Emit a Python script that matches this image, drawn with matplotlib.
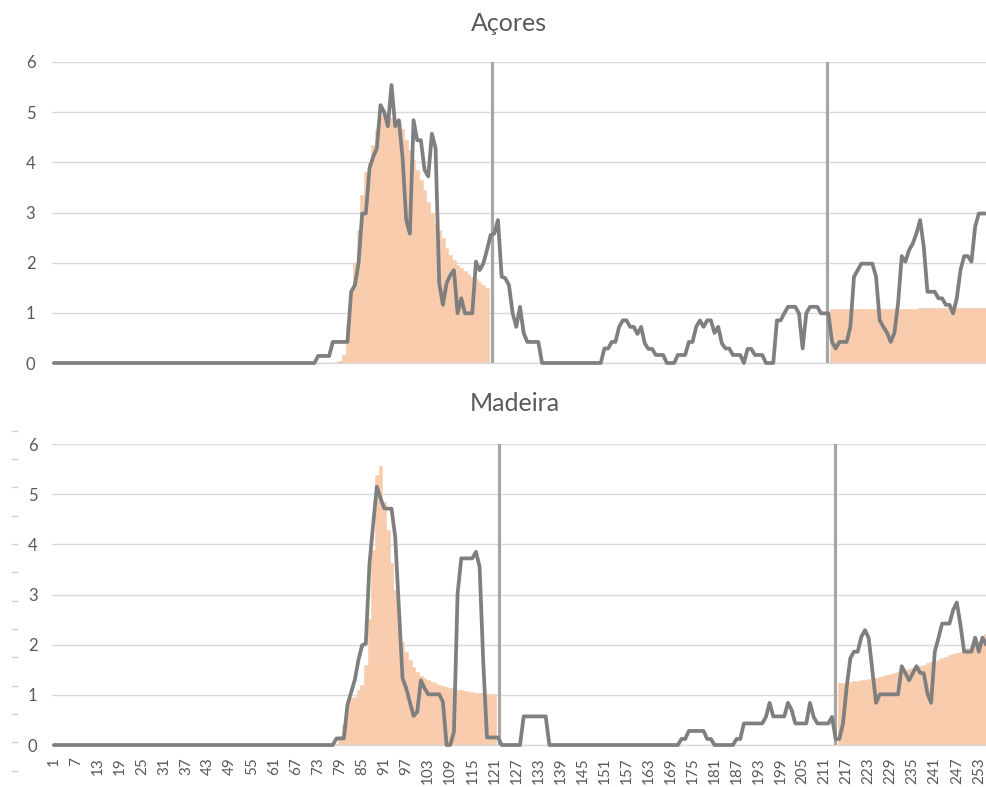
import matplotlib
matplotlib.use("Agg")
import matplotlib.pyplot as plt
from matplotlib.lines import Line2D
import numpy as np

plt.rcParams['font.family'] = ['Lato', 'DejaVu Sans']

N_DAYS = 255
days = list(range(1, N_DAYS + 1))
tick_days = list(range(1, N_DAYS + 1, 6))

titles = ["Açores", "Madeira"]

# ---- Açores ----
acores_bars = ([0] * 77 +
    [0.02, 0.04, 0.15, 0.75, 1.4, 2.0, 2.65, 3.35, 3.8, 4.0,
     4.35, 4.65, 4.9, 4.95, 4.9, 4.88, 4.84, 4.8, 4.67, 4.45,
     4.25, 4.05, 3.85, 3.65, 3.45, 3.2, 3.0, 2.8, 2.65, 2.5,
     2.3, 2.15, 2.05, 1.95, 1.9, 1.84, 1.78, 1.72, 1.67, 1.62,
     1.56, 1.5] +
    [0] * 93 +
    [1.08, 1.08, 1.08, 1.08, 1.08, 1.08, 1.08, 1.08, 1.08, 1.08,
     1.08, 1.08, 1.08, 1.08, 1.08, 1.08, 1.08, 1.08, 1.08, 1.08,
     1.08, 1.08, 1.08, 1.08, 1.1, 1.1, 1.1, 1.1, 1.1, 1.1,
     1.1, 1.1, 1.1, 1.1, 1.1, 1.1, 1.1, 1.1, 1.1, 1.1,
     1.1, 1.1, 1.1])

acores_line = ([0] * 72 +
    [0.14, 0.14, 0.14, 0.14, 0.42, 0.42, 0.42, 0.42, 0.42, 1.42,
     1.55, 1.98, 2.98, 2.98, 3.88, 4.11, 4.28, 5.14, 5.0, 4.72,
     5.54, 4.72, 4.84, 4.1, 2.85, 2.58, 4.84, 4.44, 4.44, 3.85,
     3.72, 4.57, 4.28, 1.59, 1.16, 1.59, 1.75, 1.85, 0.99, 1.29,
     0.99, 0.99, 0.99, 2.02, 1.85, 1.98, 2.25, 2.55, 2.58, 2.85,
     1.72, 1.69, 1.55, 0.99, 0.72, 1.12, 0.6, 0.42, 0.42, 0.42,
     0.42, 0, 0, 0, 0, 0, 0, 0, 0, 0,
     0, 0, 0, 0, 0, 0, 0, 0, 0.29, 0.29,
     0.42, 0.42, 0.72, 0.85, 0.85, 0.72, 0.72, 0.58, 0.72, 0.39,
     0.28, 0.28, 0.16, 0.16, 0.16, 0, 0, 0, 0.16, 0.16,
     0.16, 0.42, 0.42, 0.72, 0.85, 0.72, 0.85, 0.85, 0.6, 0.72,
     0.39, 0.29, 0.29, 0.16, 0.16, 0.16, 0, 0.28, 0.28, 0.16,
     0.16, 0.16, 0, 0, 0, 0.85, 0.85, 0.99, 1.12, 1.12,
     1.12, 0.99, 0.29, 0.99, 1.12, 1.12, 1.12, 0.99, 0.99, 0.99,
     0.42, 0.29, 0.42, 0.42, 0.42, 0.72, 1.72, 1.85, 1.98, 1.98,
     1.98, 1.98, 1.72, 0.85, 0.72, 0.6, 0.42, 0.6, 1.19, 2.13,
     2.02, 2.25, 2.38, 2.58, 2.85, 2.32, 1.42, 1.42, 1.42, 1.29,
     1.29, 1.16, 1.16, 0.99, 1.29, 1.85, 2.13, 2.13, 2.02, 2.72,
     2.98, 2.98, 2.98])

acores_markers = [120.4, 211.6]

# ---- Madeira ----
madeira_bars = ([0] * 77 +
    [0.02, 0.17, 0.4, 0.83, 0.93, 0.96, 1.1, 1.2, 1.6, 2.52,
     3.88, 5.38, 5.56, 4.85, 4.28, 3.62, 3.09, 2.32, 2.06, 1.86,
     1.69, 1.56, 1.46, 1.38, 1.33, 1.3, 1.26, 1.23, 1.2, 1.18,
     1.15, 1.13, 1.12, 1.1, 1.09, 1.08, 1.06, 1.05, 1.04, 1.03,
     1.03, 1.02, 1.02, 1.02] +
    [0] * 93 +
    [1.23, 1.24, 1.25, 1.26, 1.27, 1.28, 1.29, 1.3, 1.32, 1.33,
     1.34, 1.36, 1.38, 1.4, 1.41, 1.43, 1.45, 1.47, 1.5, 1.52,
     1.54, 1.56, 1.58, 1.6, 1.63, 1.66, 1.68, 1.7, 1.73, 1.76,
     1.79, 1.81, 1.84, 1.86, 1.9, 1.94, 1.98, 2.02, 2.08, 2.15,
     2.22])

madeira_line = ([0] * 77 +
    [0.13, 0.13, 0.13, 0.8, 1.05, 1.3, 1.7, 1.99, 2.02, 3.62,
     4.4, 5.15, 4.92, 4.72, 4.71, 4.71, 4.15, 2.75, 1.33, 1.13,
     0.85, 0.58, 0.66, 1.29, 1.13, 1.01, 1.01, 1.01, 1.01, 0.86,
     0, 0, 0.26, 3.02, 3.72, 3.72, 3.72, 3.72, 3.85, 3.55,
     1.63, 0.15, 0.15, 0.15, 0.15, 0, 0, 0, 0, 0,
     0, 0.57, 0.57, 0.57, 0.57, 0.57, 0.57, 0.57, 0, 0,
     0, 0, 0, 0, 0, 0, 0, 0, 0, 0,
     0, 0, 0, 0, 0, 0, 0, 0, 0, 0,
     0, 0, 0, 0, 0, 0, 0, 0, 0, 0,
     0, 0, 0, 0, 0.12, 0.12, 0.28, 0.28, 0.28, 0.28,
     0.28, 0.12, 0.12, 0, 0, 0, 0, 0, 0, 0.12,
     0.12, 0.43, 0.43, 0.43, 0.43, 0.43, 0.43, 0.56, 0.84, 0.57,
     0.57, 0.57, 0.57, 0.84, 0.7, 0.43, 0.43, 0.43, 0.43, 0.84,
     0.56, 0.43, 0.43, 0.43, 0.43, 0.56, 0.12, 0.12, 0.43, 1.16,
     1.73, 1.86, 1.86, 2.16, 2.29, 2.13, 1.49, 0.84, 1.01, 1.01,
     1.01, 1.01, 1.01, 1.01, 1.57, 1.43, 1.29, 1.43, 1.57, 1.44,
     1.43, 1.03, 0.84, 1.86, 2.13, 2.42, 2.42, 2.42, 2.69, 2.84,
     2.39, 1.86, 1.86, 1.86, 2.14, 1.86, 2.14, 2.0])

madeira_markers = [122.3, 213.8]

y_ticks = [0, 1, 2, 3, 4, 5, 6]

for s in (acores_bars, acores_line, madeira_bars, madeira_line):
    assert len(s) == N_DAYS, len(s)

BAR_COLOR = "#F8CBAD"
LINE_COLOR = "#7F7F7F"
MARK_COLOR = "#A6A6A6"
GRID_COLOR = "#D9D9D9"
TEXT_COLOR = "#595959"

W, H = 987, 787
fig = plt.figure(figsize=(W / 100, H / 100), dpi=100)

# (bars, line, markers, title, plot box px, show x labels, y label pad pt, title x px, title baseline px)
panels = [
    (acores_bars, acores_line, acores_markers, titles[0], (52, 62, 988, 363), False, 12.0, 509, 31),
    (madeira_bars, madeira_line, madeira_markers, titles[1], (52, 444, 988, 745), True, 10.5, 515, 411),
]

for bars, line, markers, title, (x0, y0, x1, y1), show_x, ypad, tx, ty in panels:
    ax = fig.add_axes([x0 / W, 1 - y1 / H, (x1 - x0) / W, (y1 - y0) / H])
    ax.bar(days, bars, width=1.0, color=BAR_COLOR, edgecolor=BAR_COLOR,
           linewidth=0.4, zorder=2)
    for m in markers:
        ax.axvline(m, color=MARK_COLOR, lw=2.3, zorder=3)
    ax.plot(days, line, color=LINE_COLOR, lw=2.7, zorder=4, clip_on=False,
            solid_joinstyle='round', solid_capstyle='round')
    ax.set_xlim(0.5, N_DAYS + 0.5)
    ax.set_ylim(0, 6)
    ax.set_yticks(y_ticks)
    ax.set_yticklabels([str(t) for t in y_ticks])
    ax.yaxis.grid(True, color=GRID_COLOR, lw=1.0, zorder=0)
    ax.set_axisbelow(True)
    for sp in ("top", "right", "left"):
        ax.spines[sp].set_visible(False)
    ax.spines["bottom"].set_color(GRID_COLOR)
    ax.spines["bottom"].set_linewidth(1.0)
    ax.tick_params(axis="y", length=0, pad=ypad, labelsize=12, labelcolor=TEXT_COLOR)
    if show_x:
        ax.set_xticks(tick_days)
        ax.set_xticklabels([str(d) for d in tick_days], rotation=90)
        ax.tick_params(axis="x", length=0, pad=9, labelsize=11, labelcolor=TEXT_COLOR)
        for lab in ax.get_xticklabels():
            lab.set_verticalalignment("top")
    else:
        ax.set_xticks([])
    fig.text(tx / W, 1 - ty / H, title, ha="center", va="baseline",
             fontsize=18, color=TEXT_COLOR)

# faint stray dashes at left of lower panel
for yp in [430.7, 459, 487.3, 515.7, 544, 572.3, 600.7, 629, 657.3, 685.7, 714, 742.3, 770.7]:
    fig.add_artist(Line2D([12 / W, 17 / W], [1 - yp / H, 1 - yp / H],
                          color="#D0D0D0", lw=1.0))

fig.savefig("out.png", dpi=100)
